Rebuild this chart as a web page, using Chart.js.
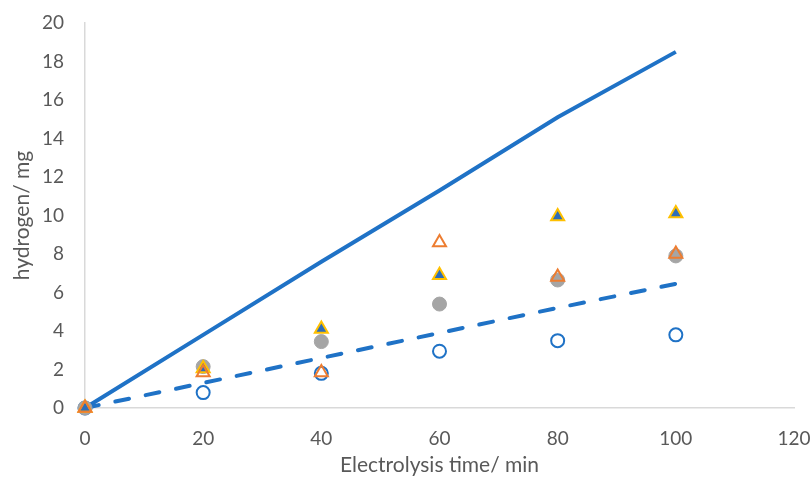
<!DOCTYPE html>
<html>
<head>
<meta charset="utf-8">
<script src="https://cdn.jsdelivr.net/npm/chart.js@4"></script>
<style>
  html, body { margin: 0; padding: 0; background: #fff; }
  #wrap { width: 811px; height: 482px; }
</style>
</head>
<body>
<div id="wrap"><canvas id="h2Chart"></canvas></div>
<script>
// electrolysis time (min)
const times = [0, 20, 40, 60, 80, 100];

// hydrogen (mg)
const solidLine = [0, 3.8, 7.6, 11.3, 15.1, 18.5];
const dashedLine = [0, 1.3, 2.6, 3.9, 5.2, 6.45];
const openCircles = [0, 0.8, 1.8, 2.95, 3.5, 3.8];
const grayCircles = [0, 2.15, 3.45, 5.4, 6.65, 7.9];
const openTriangles = [0, 1.85, 1.85, 8.6, 6.8, 8.0];
const filledTriangles = [0, 2.05, 4.1, 6.9, 9.95, 10.1];

const xTicks = [0, 20, 40, 60, 80, 100, 120];
const yTicks = [0, 2, 4, 6, 8, 10, 12, 14, 16, 18, 20];

const toPoints = vals => vals.map((v, i) => ({ x: times[i], y: v }));

const blue = '#1f72c6';
const textGray = '#595959';

const ctx = document.getElementById('h2Chart').getContext('2d');
new Chart(ctx, {
    type: 'scatter',
    data: {
        datasets: [
            {
                label: 'solid',
                data: toPoints(solidLine),
                showLine: true,
                borderColor: blue,
                borderWidth: 4,
                pointRadius: 0,
                clip: false,
                order: 5
            },
            {
                label: 'dashed',
                data: toPoints(dashedLine),
                showLine: true,
                borderColor: blue,
                borderWidth: 4,
                borderDash: [14, 17],
                borderCapStyle: 'round',
                pointRadius: 0,
                clip: false,
                order: 5
            },
            {
                label: 'open circles',
                data: toPoints(openCircles),
                pointStyle: 'circle',
                pointRadius: 6.5,
                pointBackgroundColor: '#ffffff',
                pointBorderColor: blue,
                pointBorderWidth: 2,
                clip: false,
                order: 4
            },
            {
                label: 'gray circles',
                data: toPoints(grayCircles),
                pointStyle: 'circle',
                pointRadius: 7,
                pointBackgroundColor: '#a5a5a5',
                pointBorderColor: '#a5a5a5',
                pointBorderWidth: 1,
                clip: false,
                order: 3
            },
            {
                label: 'filled triangles',
                data: toPoints(filledTriangles),
                pointStyle: 'triangle',
                pointRadius: 7.5,
                pointBackgroundColor: '#2e6db8',
                pointBorderColor: '#ffc000',
                pointBorderWidth: 2,
                clip: false,
                order: 2
            },
            {
                label: 'open triangles',
                data: toPoints(openTriangles),
                pointStyle: 'triangle',
                pointRadius: 7.5,
                pointBackgroundColor: 'rgba(255,255,255,0)',
                pointBorderColor: '#ed7d31',
                pointBorderWidth: 2,
                clip: false,
                order: 1
            }
        ]
    },
    options: {
        responsive: true,
        maintainAspectRatio: false,
        animation: false,
        layout: { autoPadding: false, padding: { left: 0, right: 17, top: 23, bottom: 0 } },
        plugins: {
            legend: { display: false },
            tooltip: { enabled: false }
        },
        scales: {
            x: {
                type: 'linear',
                min: 0,
                max: 120,
                afterBuildTicks: axis => { axis.ticks = xTicks.map(v => ({ value: v })); },
                afterFit: axis => {
                    // fixed box so the plot area sits where the original one does
                    axis.height = 74;
                    axis.paddingLeft = 0;
                    axis.paddingRight = 0;
                },
                grid: { display: false, drawTicks: false },
                border: { color: '#d9d9d9', width: 1.5 },
                ticks: { color: textGray, font: { family: 'Lato', size: 19 }, padding: 19 },
                title: {
                    display: true,
                    text: 'Electrolysis time/ min',
                    color: textGray,
                    font: { family: 'Lato', size: 21 },
                    padding: { top: 0, bottom: 4 }
                }
            },
            y: {
                type: 'linear',
                min: 0,
                max: 20,
                afterBuildTicks: axis => { axis.ticks = yTicks.map(v => ({ value: v })); },
                afterFit: axis => {
                    axis.width = 85;
                    axis.paddingTop = 0;
                    axis.paddingBottom = 0;
                },
                grid: { display: false, drawTicks: false },
                border: { color: '#d9d9d9', width: 1.5 },
                ticks: { color: textGray, font: { family: 'Lato', size: 19 }, padding: 21 },
                title: {
                    display: true,
                    text: 'hydrogen/ mg',
                    color: textGray,
                    font: { family: 'Lato', size: 21 },
                    padding: { top: 10, bottom: 0 }
                }
            }
        }
    }
});
</script>
</body>
</html>
